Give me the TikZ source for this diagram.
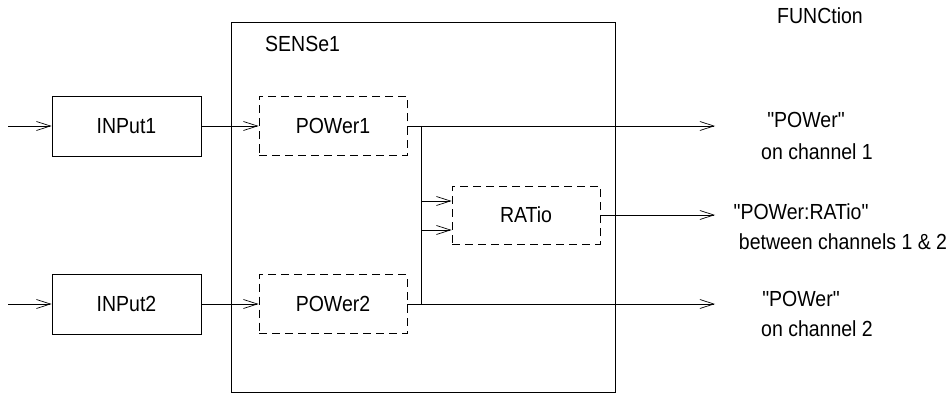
\documentclass[tikz,border=0pt]{standalone}
\usepackage{fontspec}
\setmainfont{Liberation Sans}
\usetikzlibrary{arrows.meta}
\newcommand{\tall}[1]{\scalebox{1}[1.12]{#1}}
\begin{document}
\begin{tikzpicture}[x=1pt,y=-1pt,
  every node/.style={font=\fontsize{19.5}{23}\selectfont},
  solidbox/.style={draw,line width=0.8pt,minimum width=149pt,minimum height=60pt,inner sep=0pt},
  dashbox/.style={draw,line width=0.8pt,dash pattern=on 8pt off 5pt,minimum width=148pt,minimum height=59pt,inner sep=0pt},
  conn/.style={line width=0.7pt,-{Straight Barb[length=14pt,width=9pt,line width=0.7pt]}},
  lbl/.style={inner sep=0pt,anchor=base}]
\useasboundingbox (0,0) rectangle (947,393);
% SENSe1 frame
\node[draw,line width=0.8pt,minimum width=384pt,minimum height=370pt,inner sep=0pt] (sens) at (423,207) {};
\node[lbl,anchor=base west] (senslbl) at (265,52) {\tall{SENSe1}};
% boxes
\node[solidbox] (in1) at (126.5,126) {\tall{INPut1}};
\node[solidbox] (in2) at (126.5,304) {\tall{INPut2}};
\node[dashbox] (p1) at (333,126) {\tall{POWer1}};
\node[dashbox] (p2) at (333,304) {\tall{POWer2}};
\node[dashbox,minimum height=58pt] (rat) at (526,215) {\tall{RATio}};
% inputs
\coordinate (s1) at (8,126);
\coordinate (s2) at (8,304);
\draw[conn] (s1) -- (in1.west);
\draw[conn] (s2) -- (in2.west);
\draw[conn] (in1.east) -- (p1.west);
\draw[conn] (in2.east) -- (p2.west);
% outputs
\coordinate (o1) at (715,126);
\coordinate (o2) at (715,215);
\coordinate (o3) at (715,304);
\coordinate (b1) at (421,126);
\coordinate (b2) at (421,304);
\draw[conn] (p1.east) -- (o1);
\draw[conn] (p2.east) -- (o3);
\draw[conn] (rat.east) -- (o2);
\draw[conn] (b1) |- ([yshift=-15pt]rat.west);
\draw[conn] (b2) |- ([yshift=14pt]rat.west);
% labels
\node[lbl] (fn) at (820,24) {\tall{FUNCtion}};
\node[lbl] (t1a) at (806,128) {\tall{\textquotedbl POWer\textquotedbl}};
\node[lbl] (t1b) at (817,159) {\tall{on channel 1}};
\node[lbl] (t2a) at (801,219) {\tall{\textquotedbl POWer:RATio\textquotedbl}};
\node[lbl] (t2b) at (843,249) {\tall{between channels 1 \& 2}};
\node[lbl] (t3a) at (801,306) {\tall{\textquotedbl POWer\textquotedbl}};
\node[lbl] (t3b) at (817,336) {\tall{on channel 2}};
\end{tikzpicture}
\end{document}
